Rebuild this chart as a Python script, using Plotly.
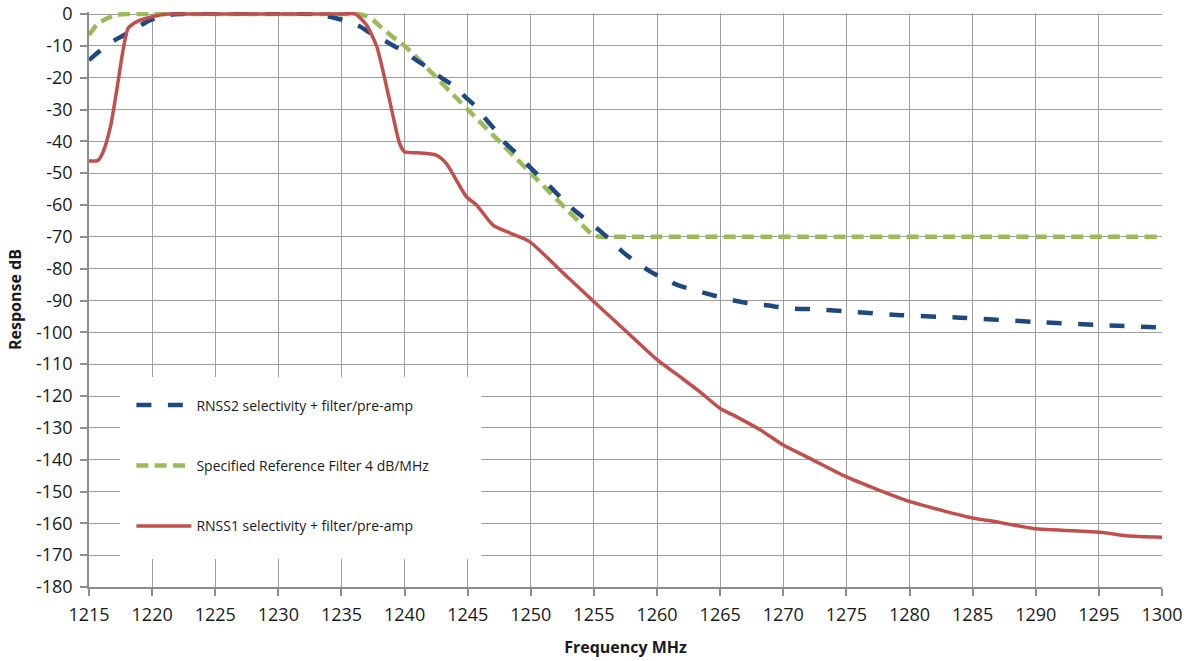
import plotly.graph_objects as go

# ---- data ----
rnss1_f = [1215, 1215.7, 1216.1, 1216.7, 1217.2, 1217.7, 1218.1, 1218.8, 1220.1, 1221.2, 1222.5,
           1235.0, 1236.1, 1237.0, 1237.8, 1238.45, 1239.1, 1239.6, 1240.0, 1241.0, 1242.5,
           1243.3, 1244.9, 1245.7, 1247.0, 1248.4, 1249.9, 1252.6, 1255.0, 1257.5, 1260.0,
           1262.0, 1263.4, 1265.0, 1266.05, 1268.2, 1270.0, 1272.1, 1275.0, 1280.05, 1285.1,
           1286.4, 1289.8, 1295.1, 1297.2, 1300]
rnss1_db = [-46.2, -46.0, -43.5, -35.4, -23.9, -11.3, -4.5, -2.4, -0.8, 0, 0,
            0, 0, -3.5, -10.3, -20.7, -32.3, -40.6, -43.3, -43.6, -44.3,
            -46.9, -57.4, -60.0, -66.3, -68.9, -71.5, -81.5, -90.4, -99.5, -108.6,
            -114.5, -118.7, -123.9, -126.0, -130.7, -135.4, -139.6, -145.4, -153.2, -158.4,
            -159.2, -161.6, -162.8, -163.9, -164.4]

rnss2_f = [1215, 1215.8, 1216.7, 1217.5, 1218.5, 1219.8, 1221.0, 1222.0, 1233.0, 1234.0,
           1235.1, 1236.5, 1237.5, 1238.7, 1239.8, 1240.7, 1241.7, 1242.8, 1243.9, 1244.8,
           1245.7, 1246.5, 1247.3, 1247.8, 1249.0, 1249.9, 1250.7, 1251.8, 1252.6, 1253.5,
           1254.6, 1255.5, 1256.3, 1257.3, 1258.3, 1259.5, 1260.5, 1261.6, 1262.9, 1264.1,
           1265.3, 1266.6, 1267.6, 1269.1, 1270.3, 1272.1, 1275.3, 1279.3, 1284.0, 1289.8,
           1295.1, 1300]
rnss2_db = [-14.5, -11.8, -9.0, -7.2, -5.0, -2.0, -0.5, 0, 0, -0.8,
            -1.9, -4.0, -6.5, -9.0, -11.5, -13.9, -16.5, -19.7, -22.6, -26.0,
            -29.3, -33.3, -37.0, -39.8, -44.3, -48.0, -51.1, -55.3, -58.6, -61.8,
            -65.3, -68.2, -71.0, -74.8, -77.8, -81.0, -83.0, -85.1, -86.7, -88.0,
            -89.3, -90.4, -91.1, -91.7, -92.5, -92.7, -93.5, -94.6, -95.4, -96.7,
            -97.7, -98.5]

ref_f = [1215, 1215.6, 1216.4, 1217.2, 1218.0, 1219.0, 1235.5, 1236.3, 1236.9, 1237.5,
         1238.1, 1239.0, 1240.0, 1245.0, 1250.0, 1254.3, 1254.9, 1255.5, 1256.3, 1300]
ref_db = [-6.6, -3.5, -1.4, -0.3, 0, 0, 0, 0, -0.6, -1.9,
          -4.0, -7.0, -10.0, -30.0, -50.0, -67.2, -69.4, -70.0, -70.0, -70.0]

names = ["RNSS2 selectivity + filter/pre-amp",
         "Specified Reference Filter 4 dB/MHz",
         "RNSS1 selectivity + filter/pre-amp"]

x_ticks = list(range(1215, 1301, 5))
y_ticks = list(range(-180, 1, 10))

FONT = "Open Sans"
TXT = "#1a1a1a"
GRID = "#9e9e9e"

fig = go.Figure()
fig.add_trace(go.Scatter(x=ref_f, y=ref_db, mode="lines", name=names[1],
                         line=dict(color="#9BBB59", width=4.5, dash="12px,6.3px",
                                   shape="spline", smoothing=0.6),
                         legendgroup="g2", legendrank=2))
fig.add_trace(go.Scatter(x=rnss2_f, y=rnss2_db, mode="lines", name=names[0],
                         line=dict(color="#1F497D", width=4.5, dash="15px,16.5px",
                                   shape="spline", smoothing=0.6),
                         legendgroup="g1", legendrank=1))
fig.add_trace(go.Scatter(x=rnss1_f, y=rnss1_db, mode="lines", name=names[2],
                         line=dict(color="#C0504D", width=3.5,
                                   shape="spline", smoothing=0.6),
                         legendgroup="g3", legendrank=3))

# white legend box over the grid
fig.add_shape(type="rect", xref="x", yref="y", x0=1217.46, x1=1246.06, y0=-171.2, y1=-114.0,
              fillcolor="white", line=dict(width=0), layer="between")
# hide grid stubs above the 0 line
fig.add_shape(type="rect", xref="x", yref="y", x0=1214, x1=1301, y0=0.2, y1=1.0,
              fillcolor="white", line=dict(width=0), layer="between")

fig.update_layout(
    width=1192, height=661,
    margin=dict(l=89, r=30, t=12, b=74, autoexpand=False),
    paper_bgcolor="white", plot_bgcolor="white",
    font=dict(family=FONT, color=TXT),
    legend=dict(x=0.0395, y=0.3435, xanchor="left", yanchor="top",
                bgcolor="rgba(0,0,0,0)", font=dict(size=14, family=FONT, color=TXT),
                tracegroupgap=39.2, itemwidth=55, traceorder="grouped"),
    xaxis=dict(range=[1215, 1300], tickvals=x_ticks, ticktext=[str(v) for v in x_ticks],
               automargin=False, ticklabeloverflow="allow",
               showgrid=True, gridcolor=GRID, gridwidth=1.2, zeroline=False,
               showline=True, linecolor="#8c8c8c", linewidth=1.5,
               ticks="outside", ticklen=7, tickcolor="#8c8c8c", tickwidth=1.5,
               tickfont=dict(size=18, family=FONT, color=TXT), ticklabelstandoff=4,
               title=dict(text="<b>Frequency MHz</b>", font=dict(size=16, family=FONT, color=TXT),
                          standoff=16)),
    yaxis=dict(range=[-180, 0.63], tickvals=y_ticks, ticktext=[str(v) for v in y_ticks],
               automargin=False, ticklabeloverflow="allow",
               showgrid=True, gridcolor=GRID, gridwidth=1.2, zeroline=False,
               showline=True, linecolor="#8c8c8c", linewidth=1.5,
               ticks="outside", ticklen=7, tickcolor="#8c8c8c", tickwidth=1.5,
               tickfont=dict(size=18, family=FONT, color=TXT), ticklabelstandoff=4,
               title=dict(text="<b>Response dB</b>", font=dict(size=16, family=FONT, color=TXT),
                          standoff=10)),
)

# remove the default 8 px page margin so the figure fills the window exactly
fig.write_html("out.html", config={"displayModeBar": False},
               post_script="document.body.style.margin='0';")
